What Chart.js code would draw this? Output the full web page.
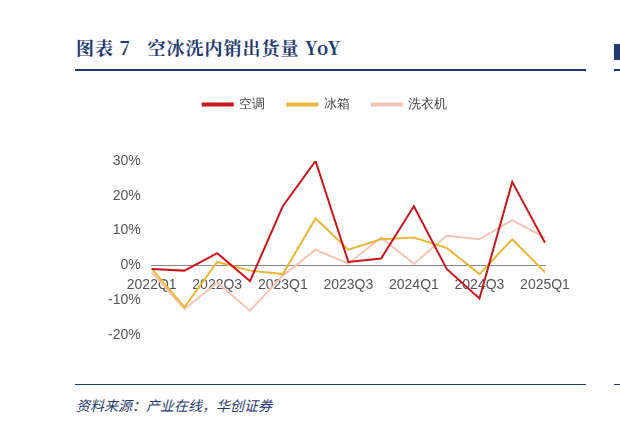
<!DOCTYPE html><html><head><meta charset="utf-8">
<script src="https://cdn.jsdelivr.net/npm/chart.js"></script>
<style>
body{margin:0;width:620px;height:426px;background:#fff;position:relative;font-family:"Noto Sans CJK SC",sans-serif;overflow:hidden}
#t{position:absolute;left:76px;top:34px;font-size:18px;font-weight:bold;color:#1f3a6e;font-family:"Noto Serif CJK SC","Noto Sans CJK SC",serif;letter-spacing:1px}
.l{position:absolute;left:75px;width:511px;height:2px;background:#1f3a6e}
#s{position:absolute;left:76px;top:395px;font-size:14px;font-style:italic;color:#1f3a6e}
#w{position:absolute;left:75px;top:76px;width:510px;height:296px}
</style></head><body>
<div id="t">图表 7&nbsp;&nbsp;&nbsp;空冰洗内销出货量 YoY</div>
<div class="l" style="top:69px"></div>
<div class="l" style="top:384px;height:1px"></div>
<div style="position:absolute;left:614px;top:44px;width:6px;height:16px;background:#1f3a6e"></div>
<div style="position:absolute;left:614px;top:69px;width:6px;height:2px;background:#1f3a6e"></div>
<div style="position:absolute;left:614px;top:384px;width:6px;height:1px;background:#1f3a6e"></div>
<div id="s">资料来源：产业在线，华创证券</div>
<div id="w"><canvas id="c"></canvas></div>
<script>
const categories=["2022Q1","2022Q2","2022Q3","2022Q4","2023Q1","2023Q2","2023Q3","2023Q4","2024Q1","2024Q2","2024Q3","2024Q4","2025Q1"];
const ac=[-1,-1.5,3.5,-4.5,17,30,1,2,17,-1,-9.5,24,6.5];
const fridge=[-1,-12,1,-1.5,-2.5,13.5,4.5,7.5,8,5,-2.5,7.5,-2];
const washer=[-2,-12.5,-5,-13,-3,4.5,0.5,8,0.5,8.5,7.5,13,8];
const yTicks=[-20,-10,0,10,20,30];
const mk=(l,d,c)=>({label:l,data:d,borderColor:c,backgroundColor:c,borderWidth:2,pointRadius:0,tension:0});
const legendGap={id:'lg',beforeInit(ch){const f=ch.legend.fit;ch.legend.fit=function(){f.bind(ch.legend)();this.height+=40;};}};
new Chart(document.getElementById('c'),{type:'line',data:{labels:categories,datasets:[mk('空调',ac,'#c8161e'),mk('冰箱',fridge,'#e8b83a'),mk('洗衣机',washer,'#f5c4b2')]},
plugins:[legendGap],
options:{responsive:true,maintainAspectRatio:false,animation:false,
layout:{padding:{left:30,right:40,bottom:37}},
plugins:{legend:{labels:{boxWidth:30,boxHeight:2,color:'#444',font:{size:13},padding:22}},tooltip:{enabled:false}},
scales:{x:{position:{y:0},offset:false,grid:{display:false},border:{color:'#888'},ticks:{autoSkip:false,maxRotation:0,color:'#555',font:{size:14},callback:(v,i)=>i%2==0?categories[i]:''}},
y:{min:-20,max:30,grid:{display:false},border:{display:false},afterBuildTicks:a=>{a.ticks=yTicks.map(v=>({value:v}))},ticks:{color:'#555',font:{size:14},callback:v=>v+'%'}}}}});
</script></body></html>
